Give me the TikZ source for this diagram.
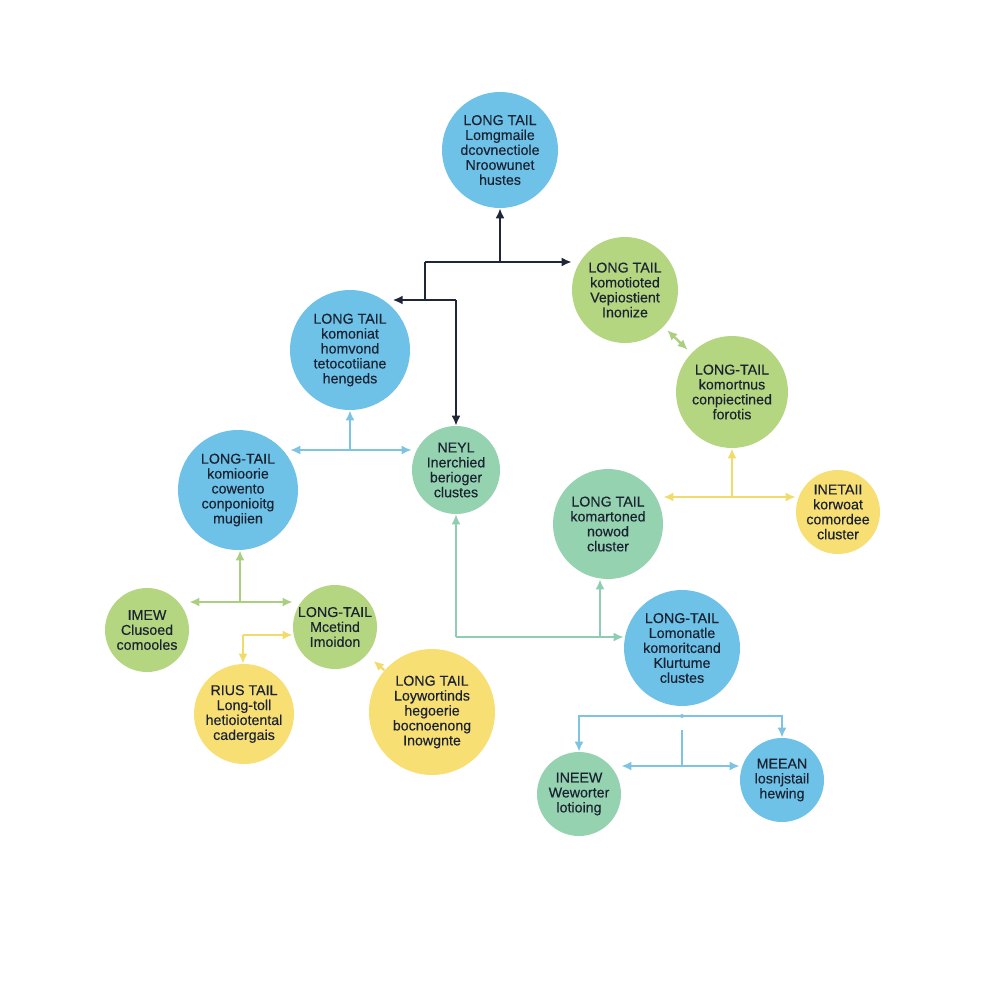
\documentclass[tikz,border=0pt]{standalone}
\usepackage{fontspec}
\setmainfont{Liberation Sans}
\newfontfamily\bubfont[FakeBold=0.35]{Liberation Sans}
\usetikzlibrary{arrows.meta}
\definecolor{cblue}{HTML}{6EC1E7}
\definecolor{cgreen}{HTML}{B4D680}
\definecolor{cteal}{HTML}{95D2B0}
\definecolor{cyel}{HTML}{F8DF74}
\definecolor{ink}{HTML}{1B2333}
\definecolor{lnavy}{HTML}{1E2638}
\definecolor{lbluec}{HTML}{7DC3E3}
\definecolor{lgreenc}{HTML}{AACF80}
\definecolor{lyelc}{HTML}{F1DB6A}
\definecolor{ltealc}{HTML}{8ECDB2}

\begin{document}
\begin{tikzpicture}[
  x=0.02cm, y=-0.02cm,
  >={Latex[length=2mm,width=1.8mm]},
  bub/.style={circle, inner sep=0pt, align=center, text=ink,
              minimum size=#1*0.2mm,
              font=\bubfont\fontsize{8.1}{8.5}\selectfont},
  bblue/.style={bub=#1, fill=cblue},
  bgreen/.style={bub=#1, fill=cgreen},
  bteal/.style={bub=#1, fill=cteal},
  byel/.style={bub=#1, fill=cyel},
  lnav/.style={draw=lnavy, line width=1.1pt},
  lblue/.style={draw=lbluec, line width=1.3pt},
  lgreen/.style={draw=lgreenc, line width=1.3pt},
  lyel/.style={draw=lyelc, line width=1.3pt},
  lteal/.style={draw=ltealc, line width=1.3pt}]
\fill[white] (0,0) rectangle (1000,1000);
\useasboundingbox (0,0) rectangle (1000,1000);

% bubbles
\node[bblue=116]  (c1)  at (500,150) {LONG TAIL\\Lomgmaile\\dcovnectiole\\Nroowunet\\hustes};
\node[bgreen=106] (c2)  at (625,290) {LONG TAIL\\komotioted\\Vepiostient\\Inonize};
\node[bblue=120]  (c3)  at (350,350) {LONG TAIL\\komoniat\\homvond\\tetocotiiane\\hengeds};
\node[bgreen=112] (c4)  at (732,392) {LONG-TAIL\\komortnus\\conpiectined\\forotis};
\node[bteal=88]   (c5)  at (456,470) {NEYL\\Inerchied\\berioger\\clustes};
\node[bblue=120]  (c6)  at (238,490) {LONG-TAIL\\komioorie\\cowento\\conponioitg\\mugiien};
\node[bteal=110]  (c7)  at (608,524) {LONG TAIL\\komartoned\\nowod\\cluster};
\node[byel=84]    (c8)  at (838,512) {INETAII\\korwoat\\comordee\\cluster};
\node[bgreen=84]  (c9)  at (147,630) {IMEW\\Clusoed\\comooles};
\node[bgreen=84]  (c10) at (335,627) {LONG-TAIL\\Mcetind\\Imoidon};
\node[bblue=116]  (c11) at (682,648) {LONG-TAIL\\Lomonatle\\komoritcand\\Klurtume\\clustes};
\node[byel=100]   (c12) at (244,714) {RIUS TAIL\\Long-toll\\hetioiotental\\cadergais};
\node[byel=126]   (c13) at (432,712) {LONG TAIL\\Loywortinds\\hegoerie\\bocnoenong\\Inowgnte};
\node[bteal=84]   (c14) at (579,794) {INEEW\\Weworter\\lotioing};
\node[bblue=84]   (c15) at (782,780) {MEEAN\\losnjstail\\hewing};

% dark links at the top
\coordinate (d1) at (500,262);
\coordinate (d2) at (425,262);
\coordinate (d3) at (425,300);
\coordinate (d4) at (456,300);
\draw[lnav, ->] (d1) -- (c1);
\draw[lnav, ->] (d2) -- (d2 -| c2.west);
\draw[lnav] (d2) -- (d3);
\draw[lnav, ->] (d4) -- (d4 -| c3.45);
\draw[lnav, ->] (d4) -- (c5);

% blue, green, yellow junctions
\coordinate (b1) at (350,450);
\draw[lblue, ->] (b1) -- (c3);
\draw[lblue, <->] (b1 -| c6.30) -- (b1 -| c5.west);
\coordinate (g1) at (240,602);
\draw[lgreen, ->] (g1) -- (g1 |- c6.south);
\draw[lgreen, <->] (g1 -| c9.east) -- (g1 -| c10.west);
\draw[lgreen, <->, shorten <=1mm, shorten >=1mm] (c2) -- (c4);
\coordinate (y1) at (243,635);
\draw[lyel, ->] (y1) -- (y1 -| c10.west);
\draw[lyel, ->] (y1) -- (y1 |- c12.north);
\draw[lyel, ->, shorten >=1.8mm] (c13) -- (c10);
\coordinate (y2) at (732,497);
\draw[lyel, ->] (y2) -- (c4);
\draw[lyel, <->] (y2 -| c7.east) -- (y2 -| c8.west);

% teal links
\coordinate (t1) at (456,637);
\coordinate (t2) at (600,637);
\draw[lteal, ->] (t1) -- (c5);
\draw[lteal, ->] (t1) -- (t1 -| c11.west);
\draw[lteal, ->] (t2) -- (t2 |- c7.south);

% bottom split
\coordinate (u1) at (682,716);
\coordinate (u2) at (682,730);
\coordinate (u3) at (682,766);
\draw[lblue, ->] (u1) -| (c14.north);
\draw[lblue, ->] (u1) -| (c15.north);
\fill[lbluec] (u1) circle (0.4mm);
\draw[lblue] (u2) -- (u3);
\draw[lblue, <->] (u3 -| c14.east) -- (u3 -| c15.west);
\end{tikzpicture}
\end{document}
